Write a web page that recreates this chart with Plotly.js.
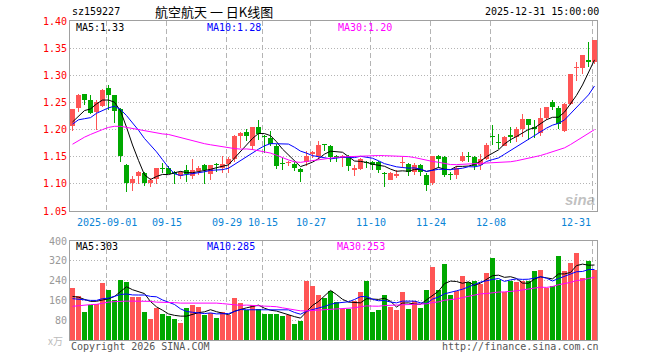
<!DOCTYPE html>
<html>
<head>
<meta charset="utf-8">
<script src="https://cdn.plot.ly/plotly-3.0.1.min.js"></script>
<style>html,body{margin:0;padding:0;background:#fff;}#chart{width:660px;height:360px;}</style>
</head>
<body>
<div id="chart"></div>
<script>
// ---- data ----
const symbol = 'sz159227';
const chartTitle = '航空航天 一 日K线图';
const stamp = '2025-12-31 15:00:00';

const opens = [1.207,1.239,1.265,1.254,1.233,1.244,1.277,1.263,1.238,1.135,
 1.101,1.115,1.120,1.101,1.109,1.129,1.129,1.122,1.115,1.126,
 1.114,1.124,1.135,1.118,1.137,1.129,1.137,1.145,1.188,1.196,
 1.170,1.204,1.188,1.185,1.169,1.137,1.138,1.137,1.128,1.141,
 1.155,1.151,1.172,1.170,1.152,1.148,1.152,1.126,1.128,1.141,
 1.141,1.141,1.119,1.108,1.114,1.138,1.137,1.121,1.135,1.116,
 1.101,1.151,1.149,1.118,1.117,1.143,1.150,1.149,1.134,1.146,
 1.188,1.177,1.170,1.190,1.187,1.201,1.219,1.204,1.193,1.221,
 1.251,1.239,1.198,1.248,1.313,1.314,1.329,1.324];
const highs = [1.238,1.266,1.266,1.263,1.254,1.275,1.282,1.264,1.240,1.137,
 1.114,1.123,1.121,1.111,1.130,1.138,1.132,1.123,1.123,1.135,
 1.146,1.132,1.137,1.135,1.138,1.152,1.149,1.190,1.195,1.201,
 1.204,1.218,1.190,1.198,1.173,1.148,1.143,1.141,1.129,1.160,
 1.160,1.179,1.173,1.171,1.153,1.153,1.153,1.134,1.148,1.143,
 1.142,1.142,1.121,1.121,1.125,1.149,1.138,1.138,1.136,1.120,
 1.152,1.153,1.151,1.121,1.132,1.159,1.158,1.151,1.155,1.176,
 1.209,1.192,1.188,1.205,1.205,1.229,1.220,1.218,1.239,1.242,
 1.254,1.243,1.249,1.303,1.324,1.338,1.362,1.365];
const lows = [1.198,1.233,1.245,1.229,1.199,1.242,1.236,1.212,1.141,1.085,
 1.087,1.099,1.096,1.094,1.099,1.120,1.119,1.100,1.109,1.103,
 1.109,1.117,1.100,1.107,1.121,1.120,1.120,1.141,1.166,1.179,
 1.163,1.181,1.157,1.170,1.127,1.126,1.132,1.124,1.103,1.132,
 1.148,1.145,1.160,1.140,1.140,1.131,1.124,1.114,1.126,1.130,
 1.126,1.120,1.094,1.107,1.111,1.129,1.115,1.117,1.115,1.087,
 1.098,1.129,1.112,1.107,1.109,1.141,1.141,1.126,1.126,1.144,
 1.172,1.164,1.169,1.176,1.178,1.187,1.180,1.184,1.188,1.218,
 1.236,1.201,1.195,1.245,1.290,1.303,1.315,1.321];
const closes = [1.237,1.263,1.254,1.231,1.251,1.273,1.263,1.234,1.151,1.101,
 1.109,1.121,1.101,1.108,1.129,1.128,1.119,1.118,1.121,1.118,
 1.126,1.130,1.125,1.134,1.134,1.137,1.145,1.188,1.193,1.188,
 1.204,1.191,1.187,1.174,1.132,1.136,1.140,1.129,1.122,1.151,
 1.158,1.172,1.171,1.149,1.147,1.152,1.132,1.130,1.146,1.138,
 1.135,1.125,1.118,1.120,1.118,1.139,1.121,1.135,1.121,1.098,
 1.152,1.146,1.117,1.117,1.129,1.152,1.149,1.132,1.146,1.172,
 1.187,1.176,1.186,1.186,1.201,1.219,1.209,1.201,1.221,1.241,
 1.241,1.210,1.248,1.302,1.314,1.337,1.324,1.365];
// volume, in 万
const volumes = [209,176,113,140,144,232,204,160,244,236,
 172,172,113,84,129,104,97,84,68,129,
 140,132,100,111,89,113,100,169,148,120,
 140,127,107,107,104,97,100,64,77,237,
 220,180,169,196,153,124,124,157,193,237,
 113,120,180,133,120,193,124,156,129,204,
 293,204,309,180,196,257,233,237,227,269,
 333,244,193,240,233,240,240,280,284,211,
 220,340,280,313,350,250,318,284];

// moving-average values read at the start of the window (they depend on earlier, unseen sessions)
const ma5Head  = [1.214,1.225,1.235,1.238];
const ma10Head = [1.210,1.218,1.220,1.222,1.230,1.235,1.240,1.243,1.237];
const ma30Head = [1.173,1.180,1.186,1.191,1.196,1.200,1.204,1.206,1.206,1.204,
 1.201,1.199,1.197,1.195,1.193,1.192,1.191,1.188,1.185,1.182,
 1.179,1.176,1.174,1.172,1.170,1.168,1.166,1.165,1.164];
const volMa5Head  = [176,173,164,156];
const volMa10Head = [167,164,160,160,160,167,169,177,184];
const volMa30Head = [136,139,140,143,144,149,153,155,157,157,
 157,157,157,156,153,153,151,151,149,149,
 149,151,151,151,149,147,144,142,140];

// x-axis labels: session index and text
const tickIdx  = [6,16,26,32,40,50,60,70,87];
const tickText = ['2025-09-01','09-15','09-29','10-15','10-27','11-10','11-24','12-08','12-31'];
const priceTicks = [1.05,1.10,1.15,1.20,1.25,1.30,1.35,1.40];
const volTicks = [80,160,240,320,400];

// ---- derived ----
const n = closes.length;
const idx = closes.map((_, i) => i);
function movAvg(src, p, head) {
  return src.map((_, i) => {
    if (i < p - 1) return head[i];
    let s = 0; for (let k = i - p + 1; k <= i; k++) s += src[k];
    return s / p;
  });
}
const ma5 = movAvg(closes, 5, ma5Head), ma10 = movAvg(closes, 10, ma10Head), ma30 = movAvg(closes, 30, ma30Head);
const vma5 = movAvg(volumes, 5, volMa5Head), vma10 = movAvg(volumes, 10, volMa10Head), vma30 = movAvg(volumes, 30, volMa30Head);

const RED = '#ff5555', GREEN = '#00a800';
const up = closes.map((c, i) => c > opens[i]);
const colors = up.map(u => u ? RED : GREEN);
const minBody = 0.0019;

// ---- pixel helpers for the surrounding text ----
const FL = 70, FR = 597, PT = 21, PB = 340;
const px = x => (x - FL) / (FR - FL);
const py = y => (PB - y) / (PB - PT);
const MONO = 'DejaVu Sans Mono, Liberation Mono, monospace';
const gridShift = -0.3;

const traces = [
  { type: 'bar', x: idx, base: lows, y: highs.map((h, i) => h - lows[i]), width: 1/6,
    marker: { color: colors, line: { width: 0 } }, xaxis: 'x', yaxis: 'y', hoverinfo: 'skip' },
  { type: 'bar', x: idx, base: opens.map((o, i) => Math.min(o, closes[i])),
    y: opens.map((o, i) => Math.max(Math.abs(closes[i] - o), minBody)), width: 5/6,
    marker: { color: colors, line: { width: 0 } }, xaxis: 'x', yaxis: 'y', hoverinfo: 'skip' },
  { type: 'scatter', mode: 'lines', x: idx, y: ma5, line: { color: '#000000', width: 1 }, xaxis: 'x', yaxis: 'y', hoverinfo: 'skip' },
  { type: 'scatter', mode: 'lines', x: idx, y: ma10, line: { color: '#0000ff', width: 1 }, xaxis: 'x', yaxis: 'y', hoverinfo: 'skip' },
  { type: 'scatter', mode: 'lines', x: idx, y: ma30, line: { color: '#ff00ff', width: 1 }, xaxis: 'x', yaxis: 'y', hoverinfo: 'skip' },
  { type: 'bar', x: idx, y: volumes, width: 5/6,
    marker: { color: colors, line: { width: 0 } }, xaxis: 'x2', yaxis: 'y2', hoverinfo: 'skip' },
  { type: 'scatter', mode: 'lines', x: idx, y: vma5, line: { color: '#000000', width: 1 }, xaxis: 'x2', yaxis: 'y2', hoverinfo: 'skip' },
  { type: 'scatter', mode: 'lines', x: idx, y: vma10, line: { color: '#0000ff', width: 1 }, xaxis: 'x2', yaxis: 'y2', hoverinfo: 'skip' },
  { type: 'scatter', mode: 'lines', x: idx, y: vma30, line: { color: '#ff00ff', width: 1 }, xaxis: 'x2', yaxis: 'y2', hoverinfo: 'skip' }
];

const gridVals = tickIdx.map(i => i + gridShift);
const xRange = [-5/12, n - 1 + 5/12];
const xCommon = {
  range: xRange, tickvals: gridVals, showticklabels: false, ticks: '',
  showgrid: true, gridcolor: '#b4b4b4', gridwidth: 1, griddash: '5px,3px',
  showline: true, mirror: true, linecolor: '#a0a0a0', linewidth: 1, zeroline: false, fixedrange: true
};
const priceDomBottom = py(211), volDomTop = py(241);

const ann = [];
function txt(text, x, y, color, size, xanchor, family) {
  ann.push({ text, x, y, xref: 'paper', yref: 'paper', xanchor: xanchor || 'left', yanchor: 'middle',
    showarrow: false, font: { family: family || MONO, size: size || 10, color } });
}
txt(symbol, px(70), py(12), '#000', 10, 'left');
txt(chartTitle, px(214), py(11.5), '#000', 13, 'center', 'Noto Sans CJK SC');
txt(stamp, px(601), py(12), '#000', 10, 'right');
txt('MA5:' + ma5[n-1].toFixed(2), px(74), py(27.5), '#000', 10);
txt('MA10:' + ma10[n-1].toFixed(2), px(205), py(27.5), '#0000ff', 10);
txt('MA30:' + ma30[n-1].toFixed(2), px(336), py(27.5), '#ff00ff', 10);
txt('MA5:' + Math.round(vma5[n-1]), px(74), py(246.5), '#000', 10);
txt('MA10:' + Math.round(vma10[n-1]), px(205), py(246.5), '#0000ff', 10);
txt('MA30:' + Math.round(vma30[n-1]), px(335), py(246.5), '#ff00ff', 10);
txt('x万', px(65), py(341), '#bbbbbb', 10, 'right', 'Noto Sans CJK SC');
txt('Copyright 2026 SINA.COM', px(69), py(346.5), '#555', 10, 'left');
txt('http://finance.sina.com.cn', px(601), py(346.5), '#555', 10, 'right');
txt('<b><i>sina</i></b>', px(597), py(199), 'rgba(140,140,140,0.55)', 15, 'right', 'Liberation Sans');
tickIdx.forEach((ti, k) => {
  ann.push({ text: tickText[k], x: ti + gridShift, y: py(222), xref: 'x', yref: 'paper',
    xanchor: k === tickIdx.length - 1 ? 'right' : 'center', yanchor: 'middle', showarrow: false,
    font: { family: MONO, size: 10, color: '#0a84d6' } });
});

const layout = {
  width: 660, height: 360, paper_bgcolor: '#ffffff', plot_bgcolor: '#ffffff',
  margin: { l: FL, r: 660 - FR, t: PT, b: 360 - PB, pad: 0 },
  showlegend: false, barmode: 'overlay', bargap: 0, dragmode: false, hovermode: false,
  xaxis: Object.assign({ anchor: 'y', domain: [0, 1] }, xCommon),
  xaxis2: Object.assign({ anchor: 'y2', domain: [0, 1], matches: 'x' }, xCommon),
  yaxis: {
    domain: [priceDomBottom, 1], range: [1.05, 1.40], tickvals: priceTicks,
    ticktext: priceTicks.map(v => v.toFixed(2)), tickfont: { family: MONO, size: 10, color: '#ff0000' },
    ticks: '', showgrid: true, gridcolor: '#b4b4b4', griddash: '1px,2px', gridwidth: 1,
    showline: true, mirror: true, linecolor: '#a0a0a0', linewidth: 1, zeroline: false, fixedrange: true
  },
  yaxis2: {
    domain: [0, volDomTop], range: [0, 400], tickvals: volTicks,
    ticktext: volTicks.map(String), tickfont: { family: MONO, size: 10, color: '#999999' },
    ticks: '', showgrid: true, gridcolor: '#b4b4b4', griddash: '1px,2px', gridwidth: 1,
    showline: true, mirror: true, linecolor: '#a0a0a0', linewidth: 1, zeroline: false, fixedrange: true
  },
  annotations: ann
};
Plotly.newPlot('chart', traces, layout, { displayModeBar: false, staticPlot: true });
</script>
</body>
</html>
